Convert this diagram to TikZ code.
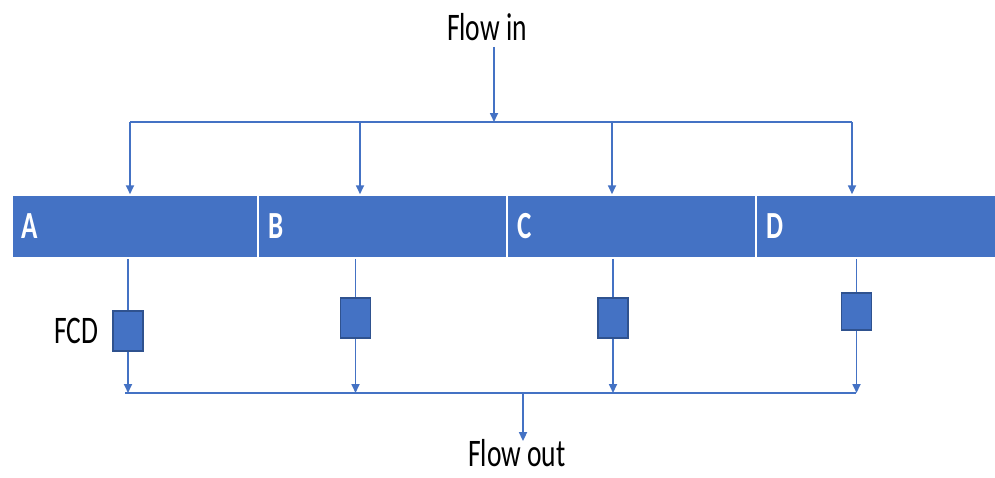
\documentclass[tikz,border=0pt]{standalone}
\usepackage{fontspec}
\setmainfont{Carlito}
\usepackage{graphicx}
\usetikzlibrary{arrows.meta}
\definecolor{barblue}{HTML}{4472C4}
\definecolor{edgeblue}{HTML}{2F528F}
\newcommand{\tallword}[1]{\scalebox{1}[1.42]{#1}}
\tikzset{
  flow/.style={draw=barblue, line width=1.7pt},
  flowarr/.style={flow, -{Triangle[width=8pt,length=9pt]}},
  seg/.style={rectangle, fill=barblue, draw=white, line width=1.5pt,
              minimum height=63pt, inner sep=0pt},
  seglabel/.style={anchor=west, text=white, inner sep=0pt,
                   font=\fontsize{27}{30}\selectfont\bfseries},
  fcd/.style={rectangle, fill=barblue, draw=edgeblue, line width=1.2pt,
              minimum width=30pt, minimum height=40pt, inner sep=0pt},
  caption/.style={inner sep=0pt, font=\fontsize{27.5}{30}\selectfont}
}
\begin{document}
\begin{tikzpicture}[x=1pt, y=-1pt]
\useasboundingbox (0,0) rectangle (995,477);

% text labels
\node[caption] (fin) at (487,27) {\tallword{Flow in}};
\node[caption] (fout) at (517,453) {\tallword{Flow out}};

% the four channel segments
\node[seg, minimum width=246pt] (A) at (135,226.5) {};
\node[seg, minimum width=249pt] (B) at (382.5,226.5) {};
\node[seg, minimum width=249pt] (C) at (631.5,226.5) {};
\node[seg, minimum width=244pt] (D) at (878,226.5) {};
\node[seglabel] (lA) at ([xshift=10pt]A.west) {\tallword{A}};
\node[seglabel] (lB) at ([xshift=11pt]B.west) {\tallword{B}};
\node[seglabel] (lC) at ([xshift=11pt]C.west) {\tallword{C}};
\node[seglabel] (lD) at ([xshift=11pt]D.west) {\tallword{D}};

% flow control devices
\node[fcd] (fA) at (128,331) {};
\node[fcd] (fB) at (355.5,318) {};
\node[fcd] (fC) at (613,318) {};
\node[fcd, minimum height=37pt] (fD) at (856.5,311.5) {};
\node[caption, anchor=east] (lfcd) at ([xshift=-14pt]fA.west) {\tallword{FCD}};

% inflow manifold
\coordinate (tin) at (494,122);
\coordinate (t1) at (130,122);
\coordinate (t2) at (360,122);
\coordinate (t3) at (612,122);
\coordinate (t4) at (852,122);
\draw[flowarr] (fin.south) ++(7,6) -- (tin);
\draw[flow] (t1) -- (t4);
\draw[flowarr] (t1) -- (t1 |- A.north);
\draw[flowarr] (t2) -- (t2 |- B.north);
\draw[flowarr] (t3) -- (t3 |- C.north);
\draw[flowarr] (t4) -- (t4 |- D.north);

% outflow manifold
\coordinate (b1) at (125,393);
\coordinate (b4) at (856,393);
\coordinate (bout) at (523,393);
\draw[flow] (b1) -- (b4);
\draw[flow] (A.south -| fA) -- (fA.north);
\draw[flow] (B.south -| fB) -- (fB.north);
\draw[flow] (C.south -| fC) -- (fC.north);
\draw[flow] (D.south -| fD) -- (fD.north);
\draw[flowarr] (fA.south) -- (fA |- b1);
\draw[flowarr] (fB.south) -- (fB |- b1);
\draw[flowarr] (fC.south) -- (fC |- b1);
\draw[flowarr] (fD.south) -- (fD |- b1);
\draw[flowarr] (bout) -- ([yshift=-2pt]bout |- fout.north);
\end{tikzpicture}
\end{document}
